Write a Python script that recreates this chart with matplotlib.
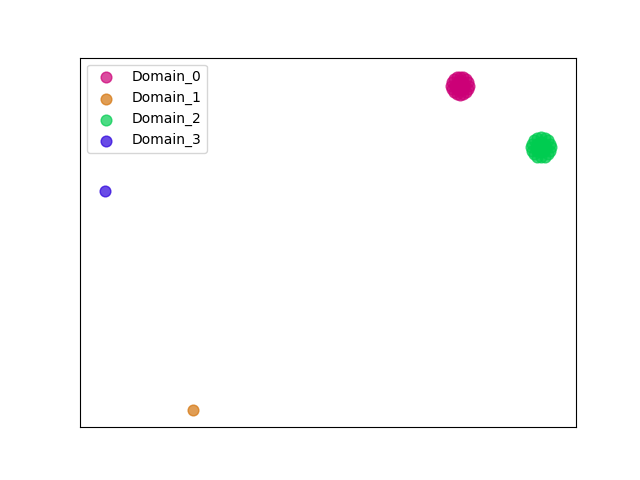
import matplotlib
matplotlib.use("Agg")
import matplotlib.pyplot as plt

# ------------------------------
# Embedding points per domain
# ------------------------------
domains = ["Domain_0", "Domain_1", "Domain_2", "Domain_3"]
colors = ["#cc0077", "#d4740c", "#00cc50", "#2a00dc"]

domain0_x = [76.6, 76.8, 76.3, 76.7,
             77.5, 77.24, 76.6, 75.96, 75.7, 75.96, 76.6, 77.24,
             78.4, 77.87, 76.6, 75.33, 74.8, 75.33, 76.6, 77.87,
             78.26, 77.29, 75.91, 74.94, 74.94, 75.91, 77.29, 78.26]
domain0_y = [92.4, 92.7, 92.3, 92.0,
             92.4, 93.25, 93.6, 93.25, 92.4, 91.55, 91.2, 91.55,
             92.4, 94.1, 94.8, 94.1, 92.4, 90.7, 90.0, 90.7,
             93.32, 94.62, 94.62, 93.32, 91.48, 90.18, 90.18, 91.48]

domain1_x = [22.8]
domain1_y = [4.6]

domain2_x = [92.9, 93.1, 92.6, 93.0,
             93.9, 93.61, 92.9, 92.19, 91.9, 92.19, 92.9, 93.61,
             94.9, 94.31, 92.9, 91.49, 90.9, 91.49, 92.9, 94.31,
             94.75, 93.67, 92.13, 91.05, 91.05, 92.13, 93.67, 94.75]
domain2_y = [75.7, 76.0, 75.6, 75.3,
             75.7, 76.65, 77.05, 76.65, 75.7, 74.75, 74.35, 74.75,
             75.7, 77.61, 78.4, 77.61, 75.7, 73.79, 73.0, 73.79,
             76.73, 78.19, 78.19, 76.73, 74.67, 73.21, 73.21, 74.67]

domain3_x = [5.0]
domain3_y = [64.0]

xs = [domain0_x, domain1_x, domain2_x, domain3_x]
ys = [domain0_y, domain1_y, domain2_y, domain3_y]

# ------------------------------
# Plot
# ------------------------------
fig, ax = plt.subplots(figsize=(6.4, 4.8), dpi=100)
for name, c, x, y in zip(domains, colors, xs, ys):
    ax.scatter(x, y, s=60, color=c, alpha=0.7, label=name)

ax.set_xlim(0, 100)
ax.set_ylim(0, 100)
ax.set_xticks([])
ax.set_yticks([])
ax.legend(loc="upper left")

plt.savefig("out.png", dpi=100)
plt.close()
